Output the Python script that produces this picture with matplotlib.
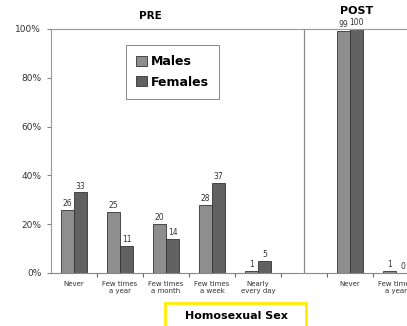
import numpy as np
import matplotlib.pyplot as plt
from matplotlib.patches import Rectangle

categories = ["Never", "Few times\na year", "Few times\na month", "Few times\na week",
              "Nearly\nevery day", "", "Never", "Few times\na year"]
males = [26, 25, 20, 28, 1, np.nan, 99, 1]
females = [33, 11, 14, 37, 5, np.nan, 100, 0]
yticks = [0, 20, 40, 60, 80, 100]
ytick_labels = ["0%", "20%", "40%", "60%", "80%", "100%"]

W, H = 407, 326
fig = plt.figure(figsize=(W / 100, H / 100), dpi=100)
ax = fig.add_axes([51 / W, 53 / H, 368 / W, 244 / H])

x = np.arange(len(categories))
bw = 0.29
c_m = "#8e8e8e"
c_f = "#616161"
bm = ax.bar(x - bw / 2, males, bw, color=c_m, edgecolor="#333333", linewidth=0.6, label="Males")
bf = ax.bar(x + bw / 2, females, bw, color=c_f, edgecolor="#333333", linewidth=0.6, label="Females")

for xi, v in zip(x, males):
    if not np.isnan(v):
        ax.text(xi - bw / 2, v + 0.8, f"{v:g}", ha="center", va="bottom", fontsize=5.5, color="#333333")
for xi, v in zip(x, females):
    if not np.isnan(v):
        ax.text(xi + bw / 2, v + 0.8, f"{v:g}", ha="center", va="bottom", fontsize=5.5, color="#333333")

ax.set_xlim(-0.5, 7.5)
ax.set_ylim(0, 100)
ax.set_yticks(yticks)
ax.set_yticklabels(ytick_labels, fontsize=6.5, color="#333333")
ax.tick_params(axis="y", length=3, color="#888888", pad=4)

ax.set_xticks(np.arange(0.5, 7.5, 1))
ax.set_xticklabels([])
ax.tick_params(axis="x", which="major", length=3, color="#666666", direction="out")
ax.set_xticks(x, minor=True)
ax.set_xticklabels(categories, minor=True, fontsize=5, color="#333333")
ax.tick_params(axis="x", which="minor", length=0, pad=6)

for s in ["left", "top", "right"]:
    ax.spines[s].set_color("#999999")
    ax.spines[s].set_linewidth(0.8)
ax.spines["bottom"].set_color("#888888")
ax.axvline(5, color="#888888", linewidth=0.9)

leg = ax.legend(loc="upper left", bbox_to_anchor=(126 / W, 1 - 45 / H), bbox_transform=fig.transFigure,
                borderaxespad=0, frameon=True, fancybox=False, edgecolor="#666666",
                handlelength=0.9, handleheight=0.9, handletextpad=0.3, labelspacing=0.6,
                borderpad=0.8, prop={"weight": "bold", "size": 9})
leg.get_frame().set_linewidth(0.7)

fig.text(150 / W, 1 - 16 / H, "PRE", ha="center", va="center", fontsize=7.5, weight="bold")
fig.text(357 / W, 1 - 11 / H, "POST", ha="center", va="center", fontsize=8, weight="bold")

fig.patches.append(Rectangle((165 / W, -0.01), 141 / W, 23 / H + 0.01, transform=fig.transFigure,
                             facecolor="white", edgecolor="#ffee00", linewidth=2))
fig.text(236 / W, 1 - 316 / H, "Homosexual Sex", ha="center", va="center", fontsize=8, weight="bold")

fig.savefig("out.png", dpi=100)
